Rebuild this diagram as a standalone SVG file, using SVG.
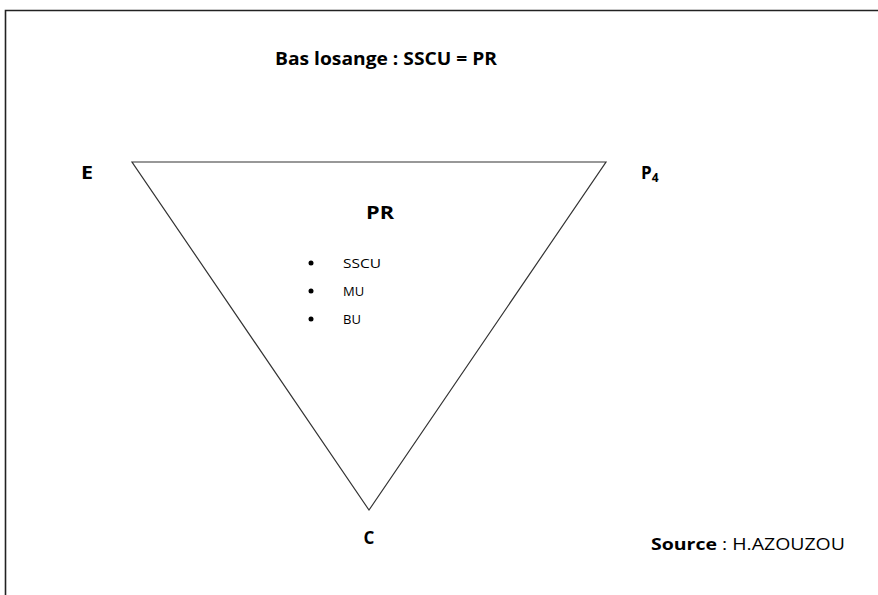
<svg xmlns="http://www.w3.org/2000/svg" width="878" height="595" viewBox="0 0 878 595">
<style>
text{font-family:"Open Sans","Liberation Sans",sans-serif;fill:#000}
.lbl{font-size:17px;font-weight:bold}
.it{font-size:13px}
.edge{fill:none;stroke:#333;stroke-width:1.2}
</style>
<rect width="878" height="595" fill="#fff"/>
<path d="M5.5,595 V10.5 H878" fill="none" stroke="#222" stroke-width="1.6"/>
<g id="title"><text class="lbl" x="275" y="65" textLength="222" lengthAdjust="spacingAndGlyphs">Bas losange : SSCU = PR</text></g>
<g id="connectors">
<path class="edge" d="M132,162 L606,162 L369,510 Z"/>
</g>
<g id="node-E"><text class="lbl" x="81" y="179" textLength="12" lengthAdjust="spacingAndGlyphs">E</text></g>
<g id="node-P4"><text class="lbl" x="641" y="179">P<tspan font-size="12" dy="3">4</tspan></text></g>
<g id="node-C"><text class="lbl" x="369" y="544" text-anchor="middle">C</text></g>
<g id="node-PR">
<text class="lbl" x="366" y="219" textLength="28" lengthAdjust="spacingAndGlyphs">PR</text>
<circle cx="311" cy="263" r="2.5"/>
<circle cx="311" cy="291" r="2.5"/>
<circle cx="311" cy="319" r="2.5"/>
<text class="it" x="343" y="268" textLength="38" lengthAdjust="spacingAndGlyphs">SSCU</text>
<text class="it" x="343" y="296">MU</text>
<text class="it" x="343" y="324">BU</text>
</g>
<g id="source"><text x="651" y="550" font-size="16" textLength="194" lengthAdjust="spacingAndGlyphs"><tspan font-weight="bold">Source</tspan> : H.AZOUZOU</text></g>
</svg>
